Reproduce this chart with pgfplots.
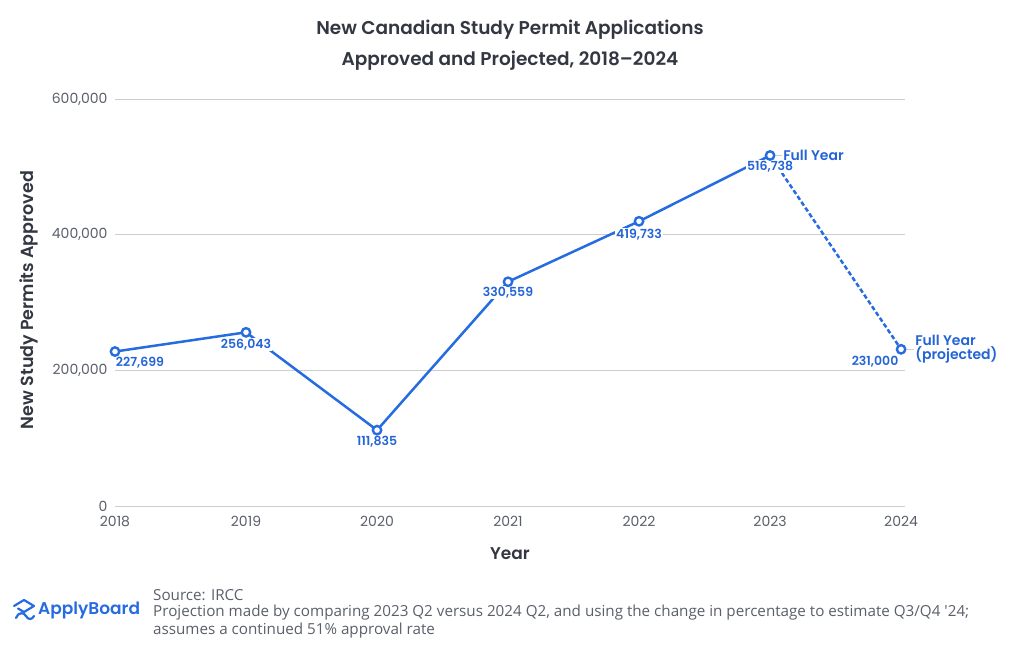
\documentclass[border=0pt]{standalone}
\usepackage{fontspec}
\setmainfont{Poppins}
\newfontfamily\semib{Poppins SemiBold}
\newfontfamily\footfont{Open Sans}
\usepackage{pgfplots}
\pgfplotsset{compat=1.18}
\definecolor{blueline}{RGB}{38,108,224}
\definecolor{bluetext}{RGB}{35,100,215}
\definecolor{tickgray}{RGB}{90,95,105}
\definecolor{titlegray}{RGB}{50,55,65}
\definecolor{gridgray}{RGB}{205,205,205}
\begin{document}
\begin{tikzpicture}
\path[use as bounding box] (0pt,0pt) rectangle (1020pt,650pt);
\begin{axis}[
  at={(115pt,144pt)}, anchor=south west,
  scale only axis, width=790pt, height=407pt,
  xmin=2018, xmax=2024.03, ymin=0, ymax=600000,
  axis line style={draw=none},
  major tick length=0pt,
  scaled y ticks=false, scaled x ticks=false,
  ytick={0,200000,400000,600000},
  yticklabels={0,{200,000},{400,000},{600,000}},
  xtick={2018,2019,2020,2021,2022,2023,2024},
  xticklabels={2018,2019,2020,2021,2022,2023,2024},
  ymajorgrids,
  grid style={draw=gridgray, line width=0.9pt},
  tick label style={font=\fontsize{14}{14}\selectfont, text=tickgray},
  yticklabel style={xshift=-4pt},
  xticklabel style={yshift=-7pt},
  clip=false,
]
\addplot[blueline, line width=2.5pt] coordinates {(2018,227699)(2019,256043)(2020,111835)(2021,330559)(2022,419733)(2023,516738)};
\addplot[blueline, line width=2.5pt, dash pattern=on 4.5pt off 2.5pt] coordinates {(2023,516738)(2024,231000)};
\begin{scope}[every node/.style={font=\semib\fontsize{12.5}{12.5}\selectfont, text=bluetext, fill=white, inner sep=1pt}]
\node[xshift=25pt,yshift=-11pt] at (axis cs:2018,227699) {227,699};
\node[yshift=-12pt] at (axis cs:2019,256043) {256,043};
\node[yshift=-12pt] at (axis cs:2020,111835) {111,835};
\node[yshift=-11pt] at (axis cs:2021,330559) {330,559};
\node[yshift=-13pt] at (axis cs:2022,419733) {419,733};
\node[yshift=-11pt] at (axis cs:2023,516738) {516,738};
\node[xshift=-26pt,yshift=-12pt] at (axis cs:2024,231000) {231,000};
\end{scope}
\node[anchor=west, font=\semib\fontsize{14}{13}\selectfont, text=bluetext, inner sep=1pt, xshift=12pt] (fy1) at (axis cs:2023,516738) {Full Year};
\node[anchor=west, align=left, font=\semib\fontsize{14}{13}\selectfont, text=bluetext, inner sep=1pt, xshift=13pt] (fy2) at (axis cs:2024,231000) {Full Year\\(projected)};
\draw[gridgray, line width=0.8pt] (fy1.west) -- ++(-6pt,0pt);
\draw[gridgray, line width=0.8pt] (fy2.west) -- ++(-7pt,0pt);
\addplot[only marks, mark=*, mark size=4.2pt, mark options={fill=white, draw=blueline, line width=2.4pt}] coordinates {(2018,227699)(2019,256043)(2020,111835)(2021,330559)(2022,419733)(2023,516738)(2024,231000)};
\end{axis}
\node[font=\semib\fontsize{18.5}{18.5}\selectfont, text=titlegray] at (510pt,620pt) {New Canadian Study Permit Applications};
\node[font=\semib\fontsize{18.5}{18.5}\selectfont, text=titlegray] at (510pt,589pt) {Approved and Projected, 2018–2024};
\node[rotate=90, font=\semib\fontsize{17.5}{17.5}\selectfont, text=titlegray] at (29pt,350pt) {New Study Permits Approved};
\node[font=\semib\fontsize{17}{17}\selectfont, text=titlegray] at (510pt,96pt) {Year};
\begin{scope}[every node/.style={anchor=west, font=\footfont\fontsize{15.2}{15.2}\selectfont, text=tickgray, inner sep=0pt}]
\node at (153pt,55pt) {Source: IRCC};
\node at (153pt,37pt) {Projection made by comparing 2023 Q2 versus 2024 Q2, and using the change in percentage to estimate Q3/Q4 '24;};
\node at (153pt,19pt) {assumes a continued 51\% approval rate};
\end{scope}
\node[anchor=west, font=\semib\fontsize{17}{17}\selectfont, text=blueline, inner sep=0pt] at (38pt,40pt) {ApplyBoard};
\draw[blueline, line width=2.2pt, line join=round, line cap=round] (14pt,44pt) -- (24pt,50pt) -- (34pt,44pt) -- (24pt,38pt) -- (18pt,41.5pt);
\draw[blueline, line width=2.2pt, line cap=round] (16pt,32pt) .. controls (18pt,38pt) and (24pt,38pt) .. (26pt,34pt) .. controls (28pt,30pt) and (32pt,30pt) .. (34pt,34pt);
\end{tikzpicture}
\end{document}
